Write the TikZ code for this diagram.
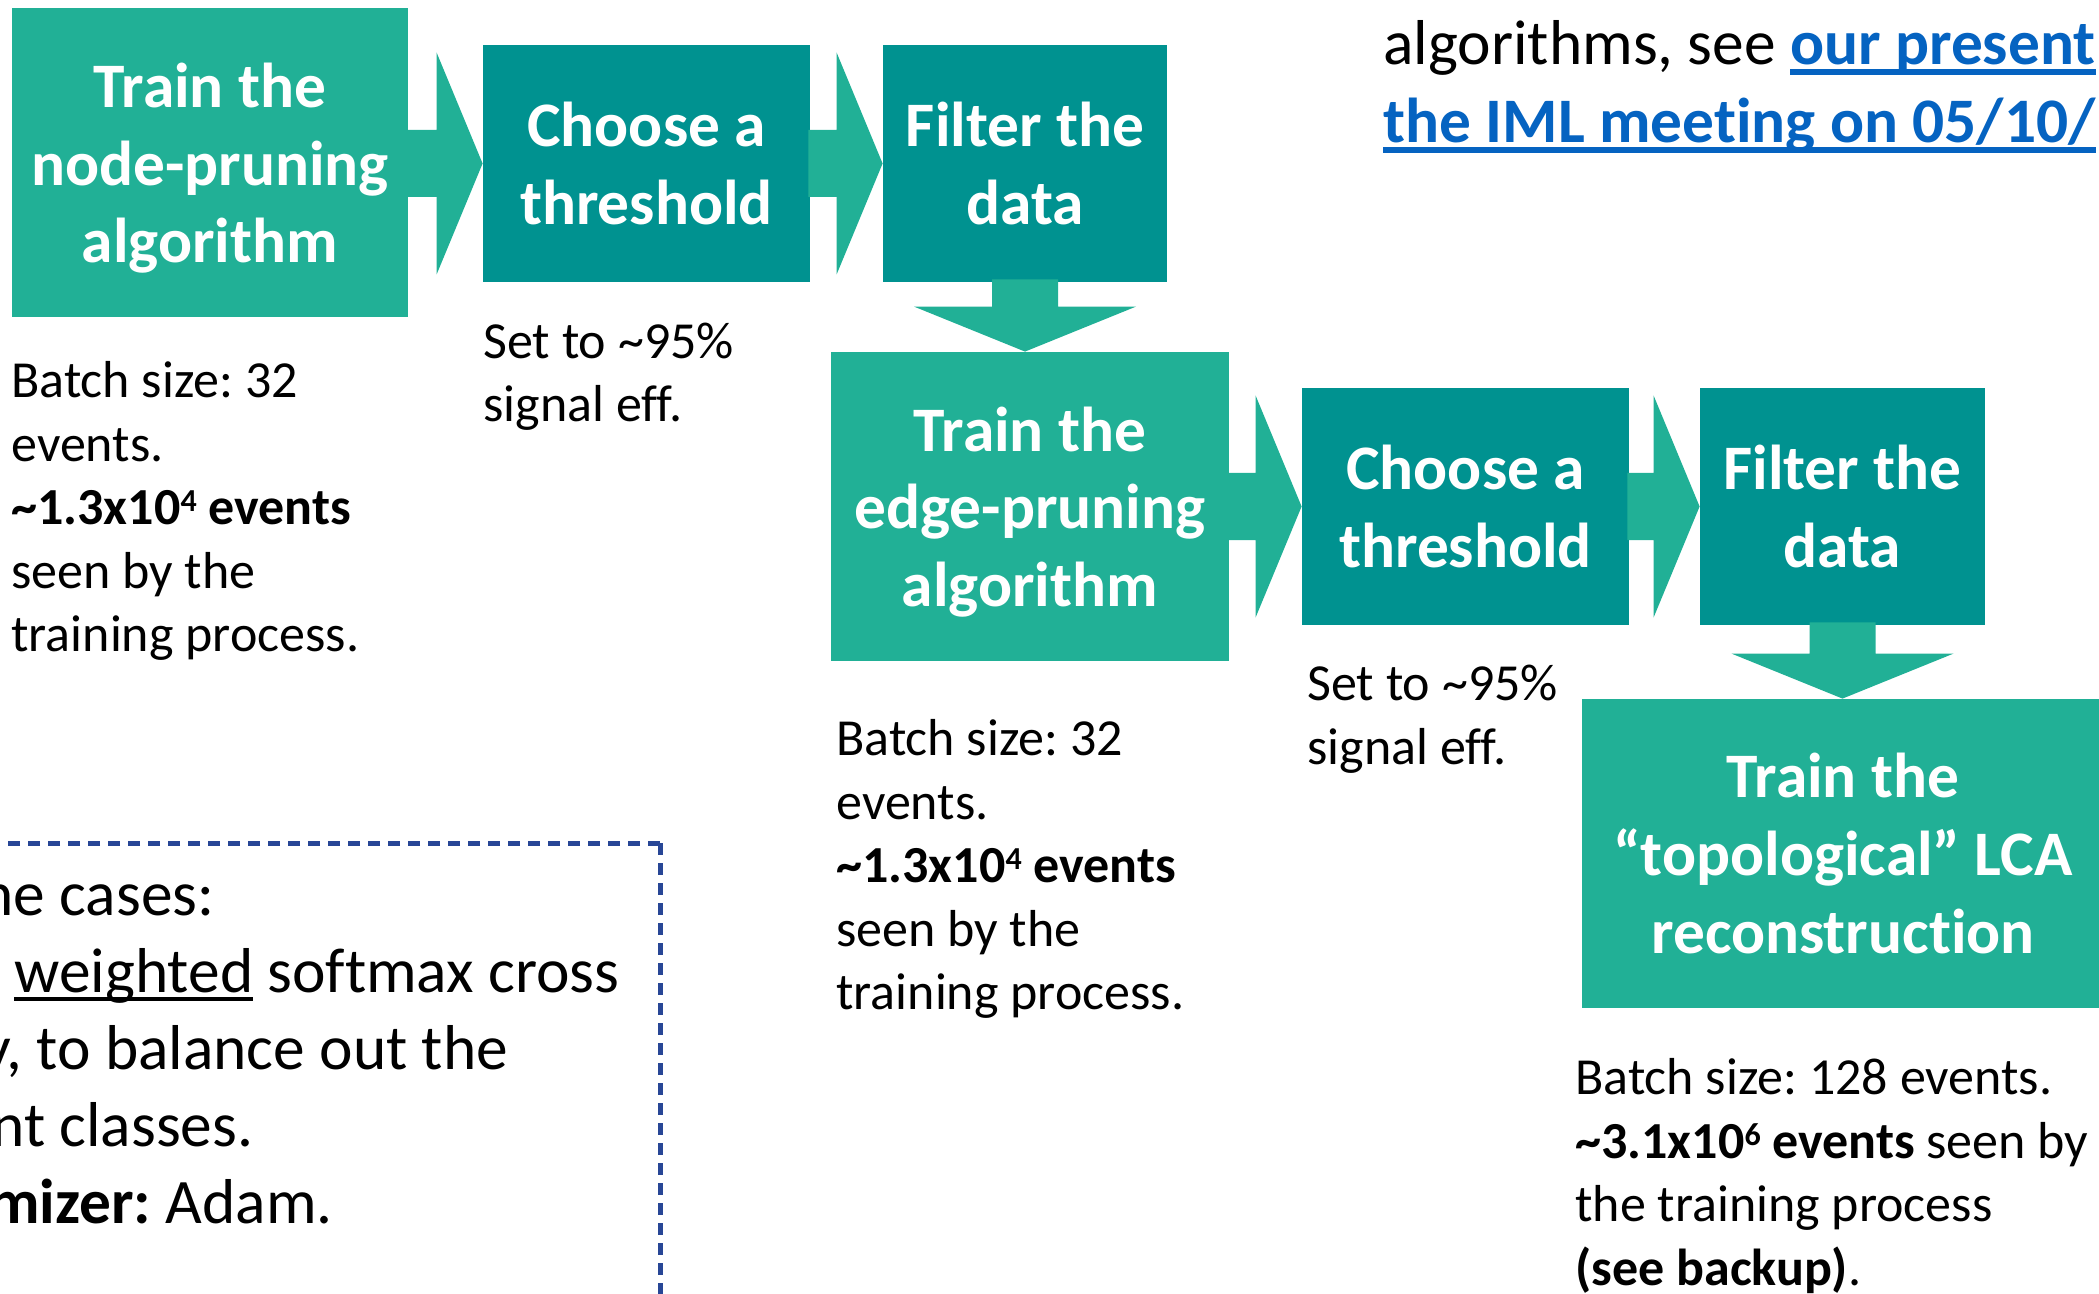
\documentclass[tikz,border=0pt]{standalone}
\usepackage{fontspec}
\setmainfont{Carlito}[Ligatures=NoCommon]
\usetikzlibrary{calc}

\definecolor{tealL}{RGB}{33,176,150}
\definecolor{tealD}{RGB}{0,146,144}
\definecolor{linkblue}{RGB}{5,99,193}
\definecolor{navy}{RGB}{40,70,150}

\frenchspacing
\newcommand\boxfont{\fontsize{31.7pt}{38.8pt}\selectfont\bfseries}
\newcommand\notefont{\fontsize{26pt}{31.8pt}\selectfont}
\newcommand\bodyfont{\fontsize{31.7pt}{39pt}\selectfont}
% underlines drawn at a fixed depth below the baseline
\newcommand\ulword[1]{\leavevmode\setbox0\hbox{#1}\rlap{\rule[-0.14em]{\wd0}{0.06em}}\box0\relax}
\newcommand\linkline[1]{\leavevmode\setbox0\hbox{#1}\rlap{\rule[-0.16em]{\wd0}{0.08em}}\box0\relax}
\newcommand\firststrut{\rule{0pt}{1em}}
% small exponent whose top sits at cap height
\newcommand\expo[1]{\raisebox{6.4pt}{\fontsize{16pt}{16pt}\selectfont #1}}

% block arrow from the east side of #1 to the west side of #2
\newcommand\flowarrowH[2]{\fill[tealL] let \p1=(#1.east |- #2.west), \p2=(#2.west) in
  (\x1-1pt,\y2+16.75pt) -- (\x2-23pt,\y2+16.75pt) -- (\x2-23pt,\y2+55.5pt) -- (\p2)
  -- (\x2-23pt,\y2-55.5pt) -- (\x2-23pt,\y2-16.75pt) -- (\x1-1pt,\y2-16.75pt) -- cycle;}
% block arrow from the south side of #1 down to the north side of #2
\newcommand\flowarrowV[2]{\fill[tealL] let \p1=(#1.south), \p2=(#1.south |- #2.north) in
  (\x2-16.5pt,\y1+1.5pt) -- (\x2-16.5pt,\y2+22.5pt) -- (\x2-55.5pt,\y2+22.5pt) -- (\p2)
  -- (\x2+55.5pt,\y2+22.5pt) -- (\x2+16.5pt,\y2+22.5pt) -- (\x2+16.5pt,\y1+1.5pt) -- cycle;}

\tikzset{
  stage/.style={inner sep=0pt, align=center, text=white, font=\boxfont},
  trainbox/.style={stage, fill=tealL, minimum height=154.5pt},
  stepbox/.style={stage, fill=tealD, minimum height=118.5pt},
  note/.style={inner sep=0pt, anchor=north west, align=left, font=\notefont},
  bodytext/.style={inner sep=0pt, anchor=north west, align=left, font=\bodyfont},
  frameline/.style={navy, line width=2.5pt, dash pattern=on 6pt off 4pt},
}

\begin{document}
\begin{tikzpicture}[x=0.5pt, y=-0.5pt]
\useasboundingbox (0,0) rectangle (2099,1294);
\clip (0,0) rectangle (2099,1294);

% first pipeline row
\node[trainbox, minimum width=198pt] (A) at (210,163) {Train the\\node-pruning\\\smash{algorithm}};
\node[stepbox, minimum width=163.5pt] (B) at (646.5,163.5) {Choose a\\threshold};
\node[stepbox, minimum width=142pt] (C) at (1025,163.5) {Filter the\\data};

% second pipeline row
\node[trainbox, minimum width=199pt] (D) at (1030,506.5) {Train the\\edge-pruning\\\smash{algorithm}};
\node[stepbox, minimum width=163.5pt] (E) at (1465.5,506.5) {Choose a\\threshold};
\node[stepbox, minimum width=142.5pt] (F) at (1842.5,506.5) {Filter the\\data};

% final stage
\node[trainbox, minimum width=261pt] (G) at (1843,853.5) {Train the\\“topological” LCA\\reconstruction};

% connectors
\flowarrowH{A}{B}
\flowarrowH{B}{C}
\flowarrowV{C}{D}
\flowarrowH{D}{E}
\flowarrowH{E}{F}
\flowarrowV{F}{G}

% notes under the stages
\node[note] (nA) at (11,345) {\firststrut Batch size: 32\\events.\\\textbf{\textasciitilde{}1.3x10\expo{4} events}\\seen by the\\training process.};
\node[note] (nB) at (483,306) {\firststrut Set to \textasciitilde{}95\%\\signal eff.};
\node[note] (nD) at (836,703) {\firststrut Batch size: 32\\events.\\\textbf{\textasciitilde{}1.3x10\expo{4} events}\\seen by the\\training process.};
\node[note] (nE) at (1307,648) {\firststrut Set to \textasciitilde{}95\%\\signal eff.};
\node[note] (nG) at (1575,1042) {\firststrut Batch size: 128 events.\\\textbf{\textasciitilde{}3.1x10\expo{6} events} seen by\\the training process\\\textbf{(see backup)}.};

% reference to the earlier presentation
\node[bodytext] (ref) at (1383,0.6) {\firststrut algorithms, see \textcolor{linkblue}{\bfseries\linkline{our present}}\\
  \textcolor{linkblue}{\bfseries\linkline{the IML meeting on 05/10/}}};

% training settings frame
\draw[frameline] (660,843) -- (-20,843);
\draw[frameline] (660,843) -- (660,1310);
\node[bodytext] (l1) at (-20,851.6) {\firststrut ne cases:};
\node[bodytext] (l2) at (14,928.6) {\firststrut \ulword{weighted} softmax cross};
\node[bodytext] (l3) at (-18,1005.6) {\firststrut y, to balance out the};
\node[bodytext] (l4) at (-9,1082.6) {\firststrut nt classes.};
\node[bodytext] (l5) at (-12,1159.6) {\firststrut \textbf{mizer:} Adam.};
\end{tikzpicture}
\end{document}
